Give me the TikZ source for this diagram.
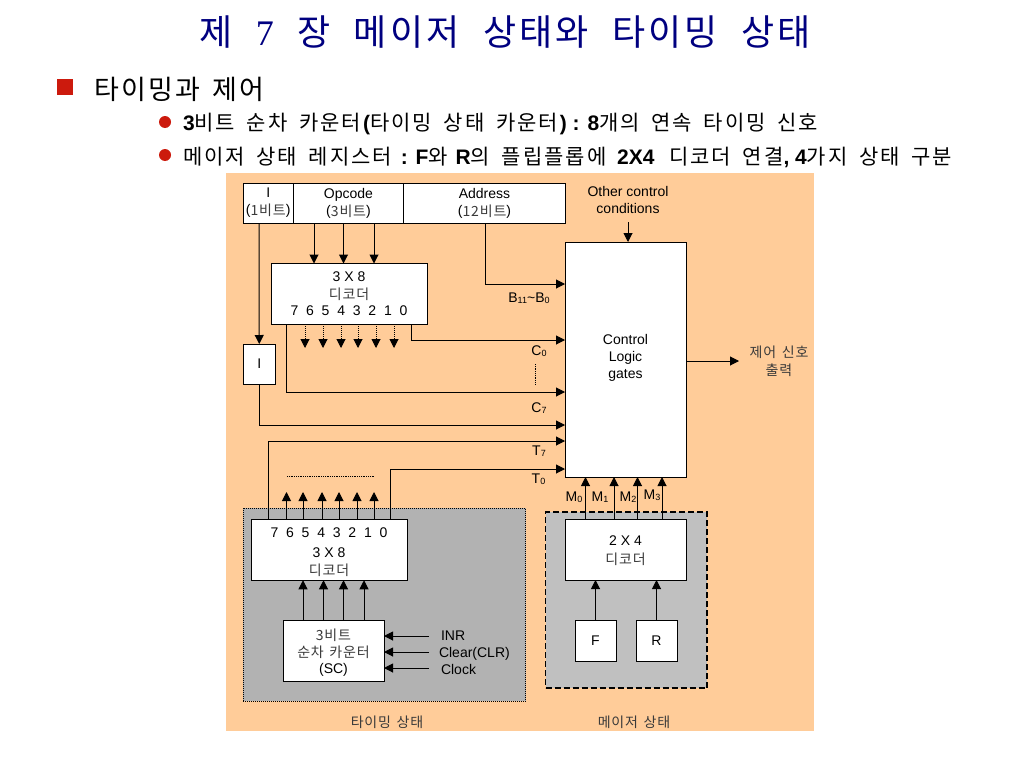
\documentclass[tikz,border=0pt]{standalone}
\usepackage{fontspec}
\setmainfont{Liberation Sans}
\newfontfamily\hk[LetterSpace=9.4,WordSpace=1.75]{Noto Sans CJK KR}
\newfontfamily\hkh[LetterSpace=9,WordSpace=1.4]{Noto Sans CJK KR}
\newfontfamily\hks[LetterSpace=6,WordSpace=1.4]{Noto Sans CJK KR}
\newfontfamily\hkt[LetterSpace=8.7,WordSpace=2.1]{Noto Sans CJK KR}
\newfontfamily\ser{Liberation Serif}
\usetikzlibrary{arrows.meta}
\definecolor{panel}{HTML}{FFCC99}
\definecolor{timing}{HTML}{B2B2B2}
\definecolor{major}{HTML}{C0C0C0}
\definecolor{navy}{HTML}{000080}
\definecolor{bulletred}{HTML}{CC1A0D}
\definecolor{hkgrey}{HTML}{3A3A3A}
\newcommand{\K}[1]{\raisebox{-1pt}{\hks\color{hkgrey}#1}}
\newcommand{\HK}[1]{{\hk #1}}
\newcommand{\digs}{7\hspace{7.8pt}6\hspace{7.8pt}5\hspace{7.8pt}4\hspace{7.8pt}3\hspace{7.8pt}2\hspace{7.8pt}1\hspace{7.8pt}0}
\newcommand{\sbs}[1]{\raisebox{-1.5pt}{\fontsize{9}{9}\selectfont #1}}
\newcommand{\topgap}{\mbox{}\\[-3pt]}
\newcommand{\topgapsmall}{\mbox{}\\[-5pt]}
\newcommand{\botgap}{\\[-10pt]\mbox{}}
\tikzset{
  x=1pt,y=-1pt,
  every node/.style={inner sep=0pt,outer sep=0pt,font=\fontsize{14}{17}\selectfont,align=center},
  box/.style={draw=black,fill=white,line width=1pt},
  arr/.style={draw=black,line width=1pt,-{Triangle[length=9pt,width=9pt]}},
  darr/.style={arr,densely dotted},
  thinline/.style={draw=black,line width=0.8pt,densely dotted},
  title/.style={font=\fontsize{36}{40}\selectfont,text=navy,anchor=center},
  head/.style={font=\fontsize{27}{32}\selectfont,anchor=west},
  sub/.style={font=\fontsize{21}{25}\selectfont,anchor=west},
}
\begin{document}
\begin{tikzpicture}
\useasboundingbox (0,0) rectangle (1024,768);
\fill[white] (0,0) rectangle (1024,768);
% header
\node[title] (ttl) at (505,32) {\hkt 제 {\ser 7} 장 메이저 상태와 타이밍 상태};
\fill[bulletred] (57,79) rectangle (73,95);
\node[head] (h1) at (94,89) {\hkh 타이밍과 제어};
\fill[bulletred] (165,122) circle (6);
\fill[bulletred] (165,155) circle (6);
\node[sub] (s1) at (183,124) {\textbf{3}\HK{비트 순차 카운터}\textbf{(}\HK{타이밍 상태 카운터}\textbf{) : 8}\HK{개의 연속 타이밍 신호}};
\node[sub] (s2) at (183,157) {\HK{메이저 상태 레지스터}\hspace{3pt} \textbf{: F}\HK{와} \textbf{R}\HK{의 플립플롭에}\hspace{5pt} \textbf{2X4}\hspace{9pt} \HK{디코더 연결}\textbf{, 4}\HK{가지 상태 구분}};
% panels
\fill[panel] (226,173) rectangle (814,731);
\node[draw=black,fill=timing,line width=1pt,densely dotted,minimum width=282.5pt,minimum height=193pt] (tp) at (384.25,604.5) {};
\node[draw=black,fill=major,line width=1.4pt,dash pattern=on 6pt off 3pt,minimum width=161.5pt,minimum height=176pt] (mp) at (626.25,600) {};
% instruction register
\node[box,minimum width=50.5pt,minimum height=40pt] (ir) at (268.25,203) {I\\(\K{1비트})};
\node[box,minimum width=110pt,minimum height=40pt] (op) at (348.5,203) {Opcode\\(\K{3비트})};
\node[box,minimum width=162pt,minimum height=40pt] (ad) at (484.5,203) {Address\\(\K{12비트})};
% decoders and blocks
\node[box,minimum width=156pt,minimum height=60.5pt] (d1) at (349,293.75) {3 X 8\\\K{디코더}\\\digs};
\node[box,minimum width=32.5pt,minimum height=40pt] (ib) at (259.25,364) {I};
\node[box,minimum width=121pt,minimum height=235pt] (cl) at (625.5,359.5) {Control\\Logic\\gates\botgap};
\node[box,minimum width=156pt,minimum height=60.5pt] (d2) at (329,550) {\topgap\digs\\[3pt]3 X 8\\\K{디코더}};
\node[box,minimum width=101pt,minimum height=61pt] (sc) at (333.5,650.5) {\topgap\K{3비트}\\\K{순차 카운터}\\(SC)};
\node[box,minimum width=121pt,minimum height=60.5pt] (d3) at (625.5,549.75) {\topgapsmall 2 X 4\\[1pt]\K{디코더}};
\node[box,minimum width=41pt,minimum height=41pt] (ff) at (595.5,640.5) {F};
\node[box,minimum width=41pt,minimum height=41pt] (rf) at (656.5,640.5) {R};
% labels
\node (lb) at (529,298) {B\sbs{11}\textasciitilde B\sbs{0}};
\node (lc0) at (539,351) {C\sbs{0}};
\node (lc7) at (539,408) {C\sbs{7}};
\node (lt7) at (539,451) {T\sbs{7}};
\node (lt0) at (538.5,479) {T\sbs{0}};
\node (m0) at (574,497) {M\sbs{0}};
\node (m1) at (600,497) {M\sbs{1}};
\node (m2) at (628,497) {M\sbs{2}};
\node (m3) at (652,495) {M\sbs{3}};
\node (oc) at (628,199.5) {Other control\\conditions};
\node (out) at (779,361.5) {\K{제어 신호}\\[1pt]\K{출력}};
\node[anchor=west] (inr) at (441,636) {INR};
\node[anchor=west] (clr) at (439,653.5) {Clear(CLR)};
\node[anchor=west] (clk) at (441,669) {Clock};
\node (lt) at (387,722) {\K{타이밍 상태}};
\node (lm) at (634,722) {\K{메이저 상태}};
% instruction connectors
\draw[arr] (ir.south -| 259,0) -- (ib.north);
\foreach \x in {314,343.5,374} \draw[arr] (op.south -| \x,0) -- (d1.north -| \x,0);
\draw[arr] (ad.south -| 485,0) |- (cl.west |- 0,284);
\foreach \x in {305,323,341,358,376,394} \draw[darr] (d1.south -| \x,0) -- (\x,348);
\draw[arr] (d1.south -| 411.5,0) |- (cl.west |- 0,340);
\draw[arr] (d1.south -| 286.5,0) |- (cl.west |- 0,392);
\draw[arr] (ib.south) |- (cl.west |- 0,425);
\draw[arr] (d2.north -| 268,0) |- (cl.west |- 0,441);
\draw[arr] (d2.north -| 390.5,0) |- (cl.west |- 0,469);
\foreach \x in {286.5,303,322,339,357,374} \draw[arr] (d2.north -| \x,0) -- (\x,492);
\draw[thinline] (287,476.5) -- (375,476.5);
\draw[thinline] (535.5,364) -- (535.5,385);
% lower connectors
\foreach \x in {303,323.5,343.5,364} \draw[arr] (sc.north -| \x,0) -- (d2.south -| \x,0);
\draw[arr] (429,636) -- (sc.east |- 0,636);
\draw[arr] (429,652) -- (sc.east |- 0,652);
\draw[arr] (429,668) -- (sc.east |- 0,668);
\foreach \x in {585.5,614,637.5,662} \draw[arr] (d3.north -| \x,0) -- (cl.south -| \x,0);
\draw[arr] (ff.north) -- (d3.south -| ff.north);
\draw[arr] (rf.north) -- (d3.south -| rf.north);
\draw[arr] (oc.south -| 628,0) ++(0,9) -- (cl.north -| 628,0);
\draw[arr] (cl.east |- 0,361) -- (739,361);
\end{tikzpicture}
\end{document}
